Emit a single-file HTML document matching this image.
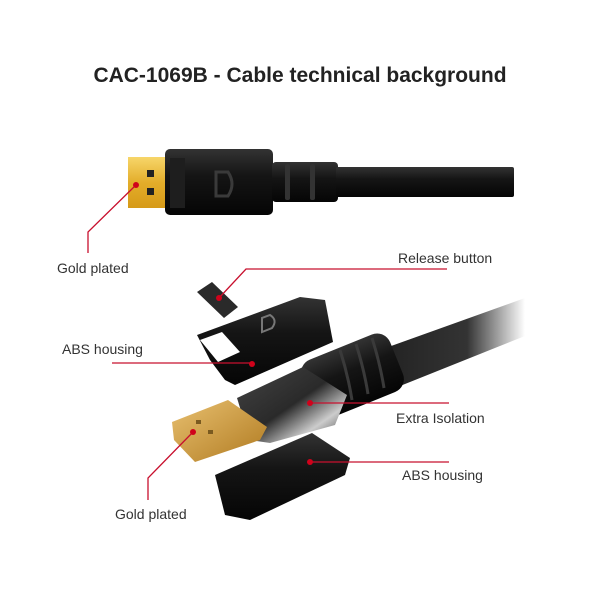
<!DOCTYPE html>
<html><head><style>
html,body{margin:0;padding:0;background:#fff;}
body{width:600px;height:600px;overflow:hidden;position:relative;font-family:"Liberation Sans",sans-serif;}
.t{position:absolute;font-size:14px;color:#333;}
h1{position:absolute;top:64px;left:0;width:600px;text-align:center;margin:0;font-size:21px;font-weight:bold;color:#222;}
</style></head><body>
<h1>CAC-1069B - Cable technical background</h1>
<svg width="600" height="600" style="position:absolute;left:0;top:0">
<defs>
<linearGradient id="g" x1="0" y1="0" x2="0" y2="1"><stop offset="0" stop-color="#f7d66a"/><stop offset="0.5" stop-color="#e3ad2a"/><stop offset="1" stop-color="#d69a18"/></linearGradient>
<linearGradient id="g2" x1="0" y1="0" x2="1" y2="1"><stop offset="0" stop-color="#e8c070"/><stop offset="1" stop-color="#b07a20"/></linearGradient>
<linearGradient id="b" x1="0" y1="0" x2="0" y2="1"><stop offset="0" stop-color="#333"/><stop offset="0.4" stop-color="#151515"/><stop offset="1" stop-color="#050505"/></linearGradient>
<linearGradient id="m" x1="0" y1="0" x2="1" y2="1"><stop offset="0" stop-color="#444"/><stop offset="0.5" stop-color="#2a2a2a"/><stop offset="0.75" stop-color="#ccc"/><stop offset="1" stop-color="#333"/></linearGradient>
<linearGradient id="c" x1="0" y1="0" x2="1" y2="0"><stop offset="0" stop-color="#222"/><stop offset="0.6" stop-color="#333"/><stop offset="1" stop-color="#fff"/></linearGradient>
</defs>
<rect x="128" y="157" width="40" height="51" fill="url(#g)"/>
<rect x="147" y="170" width="7" height="7" fill="#222"/><rect x="147" y="188" width="7" height="7" fill="#222"/>
<rect x="165" y="149" width="108" height="66" rx="5" fill="url(#b)"/>
<rect x="170" y="158" width="15" height="50" fill="#1e1e1e"/>
<path d="M216 172 L216 196 L228 196 Q236 184 228 172 Z" fill="none" stroke="#3a3a3a" stroke-width="3"/>
<rect x="272" y="162" width="66" height="40" rx="4" fill="url(#b)"/>
<g fill="#333"><rect x="285" y="164" width="5" height="36" rx="2"/><rect x="310" y="164" width="5" height="36" rx="2"/></g>
<rect x="336" y="167" width="178" height="30" rx="2" fill="url(#b)"/>
<path d="M380 350 L525 298 L525 336 L395 388 Z" fill="url(#c)"/>
<rect x="305" y="345" width="95" height="62" rx="14" fill="url(#b)" transform="rotate(-22 352 376)"/>
<g stroke="#3a3a3a" stroke-width="3" fill="none"><path d="M340 350 Q348 375 352 400"/><path d="M356 344 Q364 369 368 394"/><path d="M372 338 Q380 363 384 388"/></g>
<path d="M197 335 L300 297 L325 300 L333 342 L235 385 L225 380 L210 360 Z" fill="url(#b)"/>
<path d="M200 340 L222 332 L240 352 L218 362 Z" fill="#fff"/>
<path d="M262 318 L262 332 L272 328 Q278 320 270 315 Z" fill="none" stroke="#777" stroke-width="2"/>
<path d="M197 292 L212 282 L238 307 L224 318 Z" fill="#2a2a2a"/>
<path d="M237 398 L303 367 L347 395 L335 425 L270 443 L250 440 Z" fill="url(#m)"/>
<path d="M172 422 L228 400 L267 427 L260 440 L195 462 L174 440 Z" fill="url(#g2)"/>
<g fill="#7a5a20"><rect x="196" y="420" width="5" height="4"/><rect x="208" y="430" width="5" height="4"/></g>
<path d="M215 475 L312 433 L350 458 L345 475 L250 520 L225 515 Z" fill="url(#b)"/>
<g stroke="#c8102e" stroke-width="1.3" fill="none">
<polyline points="136,185 88,232 88,253"/>
<polyline points="219,298 246,269 447,269"/>
<polyline points="112,363 252,363"/>
<polyline points="310,403 449,403"/>
<polyline points="310,462 449,462"/>
<polyline points="193,432 148,478 148,500"/>
</g>
<g fill="#d0021b"><circle cx="136" cy="185" r="3"/><circle cx="219" cy="298" r="3"/><circle cx="252" cy="364" r="3"/><circle cx="310" cy="403" r="3"/><circle cx="310" cy="462" r="3"/><circle cx="193" cy="432" r="3"/></g>
</svg>
<div class="t" style="left:57px;top:260px">Gold plated</div>
<div class="t" style="left:398px;top:250px">Release button</div>
<div class="t" style="left:62px;top:341px">ABS housing</div>
<div class="t" style="left:396px;top:410px">Extra Isolation</div>
<div class="t" style="left:402px;top:467px">ABS housing</div>
<div class="t" style="left:115px;top:506px">Gold plated</div>
</body></html>
